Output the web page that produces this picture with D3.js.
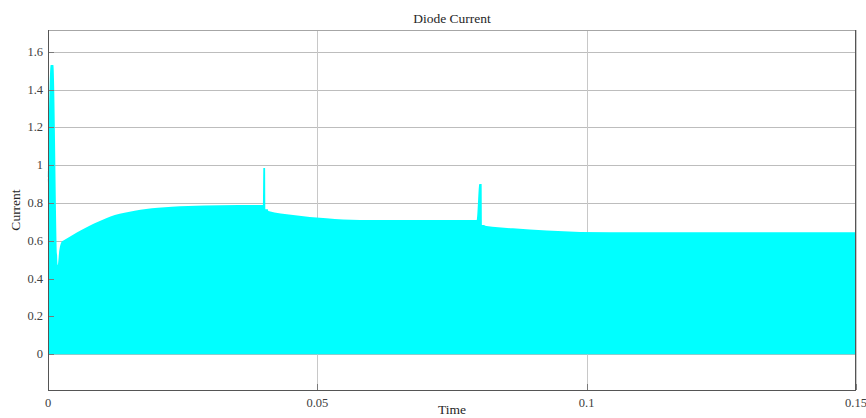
<!DOCTYPE html>
<html>
<head>
<meta charset="utf-8">
<script src="https://cdn.jsdelivr.net/npm/d3@7"></script>
<style>
  body { margin: 0; background: #fff; }
  text { font-family: "Liberation Serif", "DejaVu Serif", serif; }
</style>
</head>
<body>
<script>
// envelope of the switching diode current (s, A)
var envTime = [0, 0.0005, 0.00099, 0.0018, 0.0021, 0.00254, 0.00278, 0.0045, 0.0062,
  0.0078, 0.0093, 0.0108, 0.0124, 0.0142, 0.0161, 0.0182, 0.0204, 0.023, 0.026, 0.032, 0.0399,
  0.03998, 0.0403, 0.04035, 0.0408, 0.0409, 0.0455, 0.0517, 0.0579, 0.0796,
  0.08008, 0.0805, 0.08055, 0.0809, 0.0814, 0.0863, 0.0926, 0.0988, 0.11, 0.15];
var envPeak = [0.906, 1.53, 1.53, 0.472, 0.55, 0.595, 0.6, 0.63, 0.657,
  0.681, 0.701, 0.72, 0.737, 0.749, 0.759, 0.768, 0.775, 0.78, 0.784, 0.788, 0.79,
  0.985, 0.985, 0.767, 0.767, 0.758, 0.737, 0.719, 0.71, 0.71,
  0.9, 0.9, 0.684, 0.684, 0.678, 0.666, 0.654, 0.647, 0.645, 0.645];
var xTicks = [0, 0.05, 0.1, 0.15];
var xTickLabels = ["0", "0.05", "0.1", "0.15"];
var yTicks = [0, 0.2, 0.4, 0.6, 0.8, 1, 1.2, 1.4, 1.6];
var yTickLabels = ["0", "0.2", "0.4", "0.6", "0.8", "1", "1.2", "1.4", "1.6"];

var width = 866, height = 418;
var pL = 48, pR = 856, pT = 30, pB = 390;

var svg = d3.select("body").append("svg")
  .attr("width", width)
  .attr("height", height);

var x = d3.scaleLinear().domain([0, 0.15]).range([pL, pR]);
var y = d3.scaleLinear().domain([-0.189, 1.715]).range([pB, pT]);

// grid
svg.append("g").selectAll("line").data(yTicks).enter().append("line")
  .attr("x1", pL).attr("x2", pR)
  .attr("y1", d => Math.round(y(d)) + 0.5).attr("y2", d => Math.round(y(d)) + 0.5)
  .attr("stroke", "#bdbdbd");
svg.append("g").selectAll("line").data(xTicks).enter().append("line")
  .attr("y1", pT).attr("y2", pB)
  .attr("x1", d => Math.round(x(d)) + 0.5).attr("x2", d => Math.round(x(d)) + 0.5)
  .attr("stroke", "#c8c8c8");

// signal
var pts = envTime.map((t, i) => [t, envPeak[i]]);
svg.append("path")
  .datum(pts)
  .attr("fill", "#00ffff")
  .attr("d", d3.area()
    .curve(d3.curveMonotoneX)
    .x(d => x(d[0]))
    .y0(y(0))
    .y1(d => y(d[1])));

// tick marks (inside)
svg.append("g").selectAll("line").data(xTicks).enter().append("line")
  .attr("x1", d => Math.round(x(d)) + 0.5).attr("x2", d => Math.round(x(d)) + 0.5)
  .attr("y1", pB).attr("y2", pB - 6)
  .attr("stroke", "#7a7a7a");
svg.append("g").selectAll("line").data(yTicks).enter().append("line")
  .attr("x1", pL).attr("x2", pL + 6)
  .attr("y1", d => Math.round(y(d)) + 0.5).attr("y2", d => Math.round(y(d)) + 0.5)
  .attr("stroke", "#7a7a7a");

// box
svg.append("line").attr("x1", pL).attr("x2", pR).attr("y1", pT + 0.5).attr("y2", pT + 0.5)
  .attr("stroke", "#a6a6a6");
svg.append("line").attr("x1", pL + 0.5).attr("x2", pL + 0.5).attr("y1", pT).attr("y2", pB)
  .attr("stroke", "#555");
svg.append("line").attr("x1", pR - 0.5).attr("x2", pR - 0.5).attr("y1", pT).attr("y2", pB)
  .attr("stroke", "#555");
svg.append("line").attr("x1", pL).attr("x2", pR).attr("y1", pB + 0.5).attr("y2", pB + 0.5)
  .attr("stroke", "#555");

// tick labels
svg.append("g").selectAll("text").data(yTicks).enter().append("text")
  .attr("x", pL - 5).attr("y", d => y(d) + 4)
  .attr("text-anchor", "end")
  .attr("font-size", 12.5)
  .attr("fill", "#404040")
  .text((d, i) => yTickLabels[i]);
svg.append("g").selectAll("text").data(xTicks).enter().append("text")
  .attr("x", d => x(d)).attr("y", pB + 17)
  .attr("text-anchor", "middle")
  .attr("font-size", 12.5)
  .attr("fill", "#404040")
  .text((d, i) => xTickLabels[i]);

// titles
svg.append("text")
  .attr("x", (pL + pR) / 2).attr("y", 23)
  .attr("text-anchor", "middle")
  .attr("font-size", 13.5)
  .attr("fill", "#262626")
  .text("Diode Current");
svg.append("text")
  .attr("x", (pL + pR) / 2).attr("y", 414)
  .attr("text-anchor", "middle")
  .attr("font-size", 13.5)
  .attr("fill", "#262626")
  .text("Time");
svg.append("text")
  .attr("transform", "translate(20," + (pT + pB) / 2 + ") rotate(-90)")
  .attr("text-anchor", "middle")
  .attr("font-size", 13.5)
  .attr("fill", "#262626")
  .text("Current");
</script>
</body>
</html>
